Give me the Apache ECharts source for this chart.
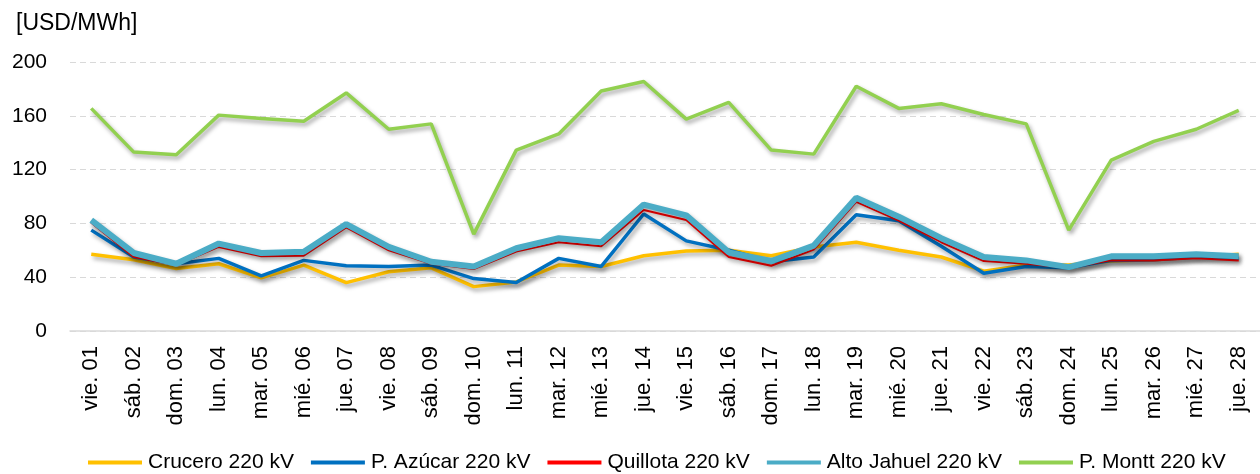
<!DOCTYPE html>
<html>
<head>
<meta charset="utf-8">
<script src="https://cdn.jsdelivr.net/npm/echarts@6/dist/echarts.min.js"></script>
<style>
  html, body { margin: 0; padding: 0; background: #fff; }
  #chart { width: 1260px; height: 474px; }
</style>
</head>
<body>
<div id="chart"></div>
<script>
// días del mes
var categories = ['vie. 01','sáb. 02','dom. 03','lun. 04','mar. 05','mié. 06','jue. 07','vie. 08','sáb. 09','dom. 10',
  'lun. 11','mar. 12','mié. 13','jue. 14','vie. 15','sáb. 16','dom. 17','lun. 18','mar. 19','mié. 20',
  'jue. 21','vie. 22','sáb. 23','dom. 24','lun. 25','mar. 26','mié. 27','jue. 28'];

var crucero = [57, 53, 46.5, 50, 39.5, 49, 36, 44, 47, 33, 36.5, 49, 48, 56, 59.5, 60, 56, 62.5, 66, 60, 55, 44.5, 49, 49, 52, 53, 55, 57];
var azucar = [75, 55, 50, 54, 41, 52.5, 48.5, 48, 49, 39, 36, 54, 48, 87, 67, 60, 51.5, 55, 86.5, 82, 63, 43, 48, 47, 52.5, 53, 55, 54];
var quillota = [80.5, 55, 49, 62.5, 55.5, 56, 77, 60, 50, 46, 59, 66, 63, 90, 82.5, 55, 48.5, 60.5, 96, 82, 66, 52, 50, 47, 52.5, 52.5, 54, 52.5];
var altoJahuel = [82.5, 58, 50, 65, 58, 59, 79.5, 62.5, 51.5, 48, 61.5, 69, 66, 94, 86, 58.5, 52, 63.5, 99, 85, 69, 55, 52.5, 47.5, 55.5, 55.5, 57, 55.5];
var montt = [165.5, 133, 131, 160.5, 158, 156, 177, 150, 154, 72, 134.5, 146.5, 178.5, 185.5, 157.5, 170, 134.5, 131.5, 182, 165.5, 169, 161, 154, 75, 127, 141, 150, 164];

var yTicks = { min: 0, max: 200, interval: 40 };

var Chart = echarts.init(document.getElementById('chart'), null, { renderer: 'canvas' });

function serie(name, data, color, width) {
  return {
    name: name,
    type: 'line',
    data: data,
    symbol: 'none',
    color: color,
    lineStyle: {
      width: width,
      color: color,
      shadowColor: 'rgba(0,0,0,0.35)',
      shadowBlur: 4,
      shadowOffsetX: 2,
      shadowOffsetY: 3
    }
  };
}

var fuente = 'Liberation Sans';

var option = {
  animation: false,
  title: {
    text: '[USD/MWh]',
    left: 11,
    top: 7,
    textStyle: { fontFamily: fuente, fontSize: 23, fontWeight: 'normal', color: '#000' }
  },
  grid: { left: 70, right: 0, top: 62, bottom: 143 },
  legend: {
    top: 447,
    left: 83,
    itemWidth: 54,
    itemHeight: 4,
    itemGap: 17,
    icon: 'rect',
    textStyle: { fontFamily: fuente, fontSize: 21, color: '#000', padding: [0, 0, 0, 1] },
    data: ['Crucero 220 kV', 'P. Azúcar 220 kV', 'Quillota 220 kV', 'Alto Jahuel 220 kV', 'P. Montt 220 kV']
  },
  xAxis: {
    type: 'category',
    data: categories,
    boundaryGap: true,
    axisLine: { lineStyle: { color: '#d9d9d9', width: 1.5 } },
    axisTick: { show: false },
    axisLabel: { rotate: 90, interval: 0, margin: 15, fontFamily: fuente, fontSize: 22, color: '#000' }
  },
  yAxis: {
    type: 'value',
    min: yTicks.min,
    max: yTicks.max,
    interval: yTicks.interval,
    axisLine: { show: false },
    axisTick: { show: false },
    axisLabel: { margin: 23, fontFamily: fuente, fontSize: 21, color: '#000' },
    splitLine: { lineStyle: { color: '#d9d9d9', type: [6, 4] } }
  },
  series: [
    serie('Crucero 220 kV', crucero, '#FFC000', 3.5),
    serie('P. Azúcar 220 kV', azucar, '#0070C0', 3.5),
    serie('Quillota 220 kV', quillota, '#FF0000', 2),
    serie('Alto Jahuel 220 kV', altoJahuel, '#4BACC6', 6),
    serie('P. Montt 220 kV', montt, '#92D050', 3.5)
  ]
};

Chart.setOption(option);
</script>
</body>
</html>
